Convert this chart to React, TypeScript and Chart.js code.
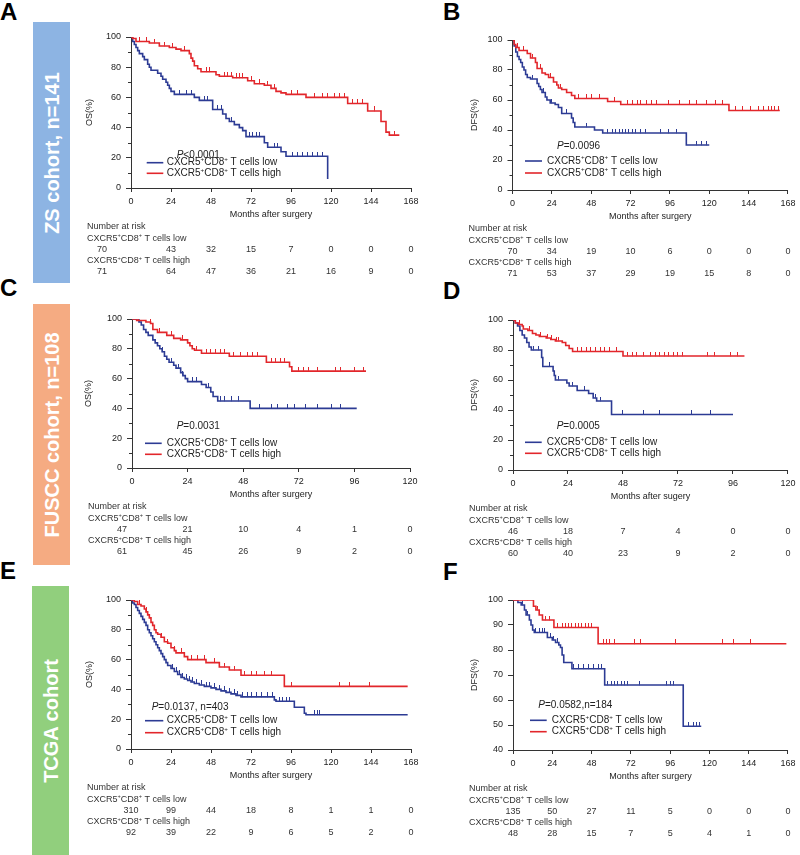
import React, { useEffect, useRef } from 'react';
import { Chart, registerables } from 'chart.js';

Chart.register(...registerables);

const FONT = '"Liberation Sans", Arial, Helvetica, sans-serif';
const BLUE = '#2c3b94';
const RED = '#e2262b';
const AXIS = '#333333';
const TEXT = '#222222';

type Step = [number, number];

// ---------- shared labels ----------
const LOW_LABEL = 'CXCR5⁺CD8⁺ T cells low';
const HIGH_LABEL = 'CXCR5⁺CD8⁺ T cells high';
const RISK_TITLE = 'Number at risk';
const X_TITLE = 'Months after surgery';
const X_TITLE_D = 'Months after sugery';
const TIMES_168 = [0, 24, 48, 72, 96, 120, 144, 168];
const TIMES_120 = [0, 24, 48, 72, 96, 120];

// ---------- Panel A: ZS cohort OS ----------
const A_LOW: Step[] = [[0,100],[1,97],[2,95],[3,93],[4,91],[5,89],[7,87],[8,85],[10,82],[11,80],[12,78],[16,76],[18,74],[19,72],[21,70],[22,68],[23,66],[24,64],[26,62],[38,60],[41,58],[49,52],[55,49],[57,46],[59,44],[62,42],[65,40],[67,38],[69,34],[80,30],[82,27],[90,24],[93,21],[118,6]];
const A_HIGH: Step[] = [[0,100],[1,99],[3,97],[11,96],[17,94],[23,93],[27,92],[30,91],[35,89],[36,86],[37,84],[38,81],[40,79],[42,77],[51,75],[53,74],[61,73],[70,71],[74,69],[80,68],[84,66],[87,64],[90,63],[93,62],[105,60],[130,56],[142,51],[150,44],[153,37],[155,35],[161,35]];
const A_LOW_CENSOR = [29,33,36,44,46,52,54,60,71,73,75,77,86,88,97,100,103,106,109,112,115];
const A_HIGH_CENSOR = [5,9,14,20,25,32,45,47,56,58,60,63,65,67,72,77,82,86,96,100,110,115,118,122,125,128,133,136,139,146,158];
const A_RISK_LOW = [70,43,32,15,7,0,0,0];
const A_RISK_HIGH = [71,64,47,36,21,16,9,0];
const A_P = 'P<0.0001';

// ---------- Panel B: ZS cohort DFS ----------
const B_LOW: Step[] = [[0,100],[1,96],[2,92],[3,89],[4,87],[5,85],[6,82],[7,80],[8,77],[9,75],[11,74],[15,71],[16,69],[17,67],[18,65],[20,62],[21,60],[23,58],[26,57],[28,55],[30,51],[36,48],[37,45],[38,42],[50,40],[55,38],[106,30],[120,30]];
const B_HIGH: Step[] = [[0,100],[1,97],[2,95],[4,93],[9,91],[11,88],[14,85],[15,81],[18,78],[20,77],[22,75],[25,72],[27,70],[28,68],[30,67],[33,65],[36,63],[38,61],[58,59],[66,57],[132,53],[163,53]];
const B_LOW_CENSOR = [12,19,24,33,45,58,61,63,65,67,69,71,73,75,78,81,90,95,100,112,115,118];
const B_HIGH_CENSOR = [3,7,12,17,23,29,40,45,48,53,62,70,73,76,78,82,85,88,95,102,108,112,118,124,128,136,140,145,150,153,156,158,160,162];
const B_RISK_LOW = [70,34,19,10,6,0,0,0];
const B_RISK_HIGH = [71,53,37,29,19,15,8,0];
const B_P = 'P=0.0096';

// ---------- Panel C: FUSCC cohort OS ----------
const C_LOW: Step[] = [[0,100],[3,98],[4,96],[5,93],[6,91],[7,89],[9,86],[10,84],[11,82],[12,80],[13,78],[14,75],[15,73],[16,71],[18,69],[19,67],[21,64],[22,62],[23,60],[24,58],[30,56],[32,54],[34,51],[35,48],[37,45],[51,40],[97,40]];
const C_HIGH: Step[] = [[0,100],[2,99],[6,98],[8,97],[9,93],[11,91],[15,89],[18,87],[21,86],[24,84],[25,82],[26,80],[27,79],[30,77],[42,75],[58,71],[68,68],[69,65],[101,65]];
const C_LOW_CENSOR = [13,17,20,22,26,28,33,38,40,43,46,55,60,63,67,70,75,80,86,90];
const C_HIGH_CENSOR = [3,8,12,17,22,28,32,34,36,38,40,44,47,50,52,54,60,62,64,66,72,74,76,80,88,90,96,100];
const C_RISK_LOW = [47,21,10,4,1,0];
const C_RISK_HIGH = [61,45,26,9,2,0];
const C_P = 'P=0.0031';

// ---------- Panel D: FUSCC cohort DFS ----------
const D_LOW: Step[] = [[0,100],[1,98],[2,96],[3,93],[4,90],[5,88],[6,85],[7,82],[8,80],[12.5,75],[13,69],[17.5,66],[18,63],[18.5,60],[23.5,58],[24.5,56],[28,53],[33,51],[35,48],[36.5,46],[43,37],[96,37]];
const D_HIGH: Step[] = [[0,100],[1,98],[2.5,97],[4,96],[4.5,94],[6.5,93],[8.5,91],[10,90],[11.5,89],[14.5,88],[16.5,87],[18.5,86],[21.5,85],[23,83],[24.5,81],[26,79],[48,76],[101,76]];
const D_LOW_CENSOR = [9,11,16,20,26,31,36,38,48,57,64,78,86];
const D_HIGH_CENSOR = [3,7,12,15,17,19,20,28,30,32,34,36,38,40,42,45,50,52,54,57,60,62,64,66,68,70,72,74,85,88,95,98];
const D_RISK_LOW = [46,18,7,4,0,0];
const D_RISK_HIGH = [60,40,23,9,2,0];
const D_P = 'P=0.0005';

// ---------- Panel E: TCGA cohort OS ----------
const E_LOW: Step[] = [[0,100],[1,98],[2,97],[3,95],[4,93],[5,91],[6,89],[7,87],[8,85],[9,83],[10,80],[11,78],[12,76],[13,74],[14,72],[15,70],[16,68],[17,66],[18,64],[19,62],[20,60],[21,58],[22,56],[24,54],[26,52],[28,50],[30,48],[32,47],[34,46],[36,45],[38,44],[41,43],[44,42],[48,41],[51,40],[54,39],[57,38],[60,37],[63,36],[66,35],[86,33],[87,32],[98,28],[104,24],[105,23],[166,23]];
const E_HIGH: Step[] = [[0,100],[2,99],[4,97],[6,96],[8,94],[9,92],[10,90],[11,88],[12,85],[13,83],[14,80],[15,78],[16,77],[18,75],[20,72],[22,71],[24,68],[26,66],[27,64.5],[32,62],[34,60],[45,58],[53,55],[59,53],[66,49.5],[92,42],[166,42]];
const E_LOW_CENSOR = [25,27,29,31,33,35,37,39,42,45,47,50,53,56,59,62,64,67,70,72,75,78,82,85,89,91,93,95,110,112,113];
const E_HIGH_CENSOR = [5,9,14,18,22,26,30,36,40,44,50,56,62,68,72,75,80,84,96,125,131,143];
const E_RISK_LOW = [310,99,44,18,8,1,1,0];
const E_RISK_HIGH = [92,39,22,9,6,5,2,0];
const E_P = 'P=0.0137, n=403';

// ---------- Panel F: TCGA cohort DFS ----------
const F_LOW: Step[] = [[0,100],[3,99],[5,98],[7,96],[8,94],[10,92],[11,90],[12,88],[13,87],[21,85],[24,84],[26,83],[28,82],[29,81],[30,78],[31,75],[36,72.5],[56,66],[104,49.5],[115,49.5]];
const F_HIGH: Step[] = [[0,100],[12.5,97.5],[14,96],[16,94],[18,92],[25,89],[52,82.5],[167,82.5]];
const F_LOW_CENSOR = [6,9,12,14,16,18,19,23,25,27,37,40,43,46,49,52,54,58,60,62,64,66,68,70,77,94,96,98,107,110,112,114];
const F_HIGH_CENSOR = [3,6,9,15,20,22,27,30,32,34,36,38,40,42,44,46,48,55,57,59,62,74,78,99,128,135,145];
const F_RISK_LOW = [135,50,27,11,5,0,0,0];
const F_RISK_HIGH = [48,28,15,7,5,4,1,0];
const F_P = 'P=0.0582,n=184';

// ---------- layout ----------
interface PanelCfg {
  key: string;
  rect: [number, number, number, number];
  area: [number, number, number, number];
  xMax: number; yMin: number; yMax: number; yStep: number; yMinor: boolean;
  yTitle: string; yTitleOffset: number; xTitle: string;
  low: Step[]; high: Step[]; lowCens: number[]; highCens: number[];
  riskTimes: number[]; riskLow: number[]; riskHigh: number[];
  pText: string; pPos: [number, number];
  legLine: [number, number]; legY: [number, number]; legTextX: number;
  firstShift: number;
}

const YW = 48;
const XH = 32.4;
const RISK_ROWS = [39, 50.5, 61.5, 73, 84];

const PANELS: PanelCfg[] = [
  { key: 'A', rect: [72, 20, 368, 260], area: [131, 411, 37, 188], xMax: 168, yMin: 0, yMax: 100, yStep: 20, yMinor: true,
    yTitle: 'OS(%)', yTitleOffset: -41, xTitle: X_TITLE, low: A_LOW, high: A_HIGH, lowCens: A_LOW_CENSOR, highCens: A_HIGH_CENSOR,
    riskTimes: TIMES_168, riskLow: A_RISK_LOW, riskHigh: A_RISK_HIGH, pText: A_P, pPos: [45.7, 118],
    legLine: [15.7, 32.3], legY: [125.7, 136.3], legTextX: 35.7, firstShift: -29 },
  { key: 'B', rect: [440, 20, 360, 260], area: [512.5, 793, 40, 190], xMax: 168, yMin: 0, yMax: 100, yStep: 20, yMinor: true,
    yTitle: 'DFS(%)', yTitleOffset: -38, xTitle: X_TITLE, low: B_LOW, high: B_HIGH, lowCens: B_LOW_CENSOR, highCens: B_HIGH_CENSOR,
    riskTimes: TIMES_168, riskLow: B_RISK_LOW, riskHigh: B_RISK_HIGH, pText: B_P, pPos: [44.5, 106],
    legLine: [12.5, 29.5], legY: [121, 133], legTextX: 34.5, firstShift: 0 },
  { key: 'C', rect: [72, 280, 368, 285], area: [132, 410, 319, 468], xMax: 120, yMin: 0, yMax: 100, yStep: 20, yMinor: true,
    yTitle: 'OS(%)', yTitleOffset: -43, xTitle: X_TITLE, low: C_LOW, high: C_HIGH, lowCens: C_LOW_CENSOR, highCens: C_HIGH_CENSOR,
    riskTimes: TIMES_120, riskLow: C_RISK_LOW, riskHigh: C_RISK_HIGH, pText: C_P, pPos: [44.7, 107.7],
    legLine: [13, 29.7], legY: [124.3, 135.3], legTextX: 34.7, firstShift: -10 },
  { key: 'D', rect: [440, 280, 360, 285], area: [513, 793, 320, 470], xMax: 120, yMin: 0, yMax: 100, yStep: 20, yMinor: true,
    yTitle: 'DFS(%)', yTitleOffset: -38, xTitle: X_TITLE_D, low: D_LOW, high: D_HIGH, lowCens: D_LOW_CENSOR, highCens: D_HIGH_CENSOR,
    riskTimes: TIMES_120, riskLow: D_RISK_LOW, riskHigh: D_RISK_HIGH, pText: D_P, pPos: [43.7, 106.7],
    legLine: [12, 28.7], legY: [122.3, 133.3], legTextX: 33.7, firstShift: 0 },
  { key: 'E', rect: [72, 565, 368, 290], area: [131, 411, 600, 749], xMax: 168, yMin: 0, yMax: 100, yStep: 20, yMinor: true,
    yTitle: 'OS(%)', yTitleOffset: -41, xTitle: X_TITLE, low: E_LOW, high: E_HIGH, lowCens: E_LOW_CENSOR, highCens: E_HIGH_CENSOR,
    riskTimes: TIMES_168, riskLow: E_RISK_LOW, riskHigh: E_RISK_HIGH, pText: E_P, pPos: [20.7, 107.7],
    legLine: [14, 32.3], legY: [120.7, 132.7], legTextX: 35.7, firstShift: 0 },
  { key: 'F', rect: [440, 565, 360, 290], area: [513, 793, 600, 750], xMax: 168, yMin: 40, yMax: 100, yStep: 10, yMinor: false,
    yTitle: 'DFS(%)', yTitleOffset: -38, xTitle: X_TITLE, low: F_LOW, high: F_HIGH, lowCens: F_LOW_CENSOR, highCens: F_HIGH_CENSOR,
    riskTimes: TIMES_168, riskLow: F_RISK_LOW, riskHigh: F_RISK_HIGH, pText: F_P, pPos: [25.3, 105],
    legLine: [17, 33.7], legY: [120.3, 131.7], legTextX: 38.7, firstShift: 0 },
];

const BANDS = [
  { key: 'ba', x: 33, y: 22, w: 37, h: 261, color: '#8db4e3', text: 'ZS cohort, n=141' },
  { key: 'bc', x: 33, y: 304, w: 37, h: 261, color: '#f5ab82', text: 'FUSCC cohort, n=108' },
  { key: 'be', x: 32, y: 586, w: 37, h: 269, color: '#91cf7d', text: 'TCGA cohort' },
];

const LETTERS = [
  { t: 'A', x: 0, y: 0 }, { t: 'B', x: 443, y: 0 },
  { t: 'C', x: 0, y: 276 }, { t: 'D', x: 443, y: 279 },
  { t: 'E', x: 0, y: 559 }, { t: 'F', x: 443, y: 560 },
];

function stepValue(steps: Step[], t: number): number {
  let v = steps[0][1];
  for (const [x, y] of steps) {
    if (x <= t) v = y; else break;
  }
  return v;
}

// upward censor tick used as a point style
function makeTick(color: string): HTMLCanvasElement {
  const c = document.createElement('canvas');
  c.width = 1;
  c.height = 9;
  const g = c.getContext('2d');
  if (g) {
    g.fillStyle = color;
    g.fillRect(0, 0, 1, 4.5);
  }
  return c;
}

function drawRich(ctx: CanvasRenderingContext2D, text: string, x: number, y: number, size: number,
  align: 'left' | 'center' = 'left', italicFirst = false) {
  const segs: { s: string; sup: boolean; it: boolean }[] = [];
  for (let i = 0; i < text.length; i++) {
    const ch = text[i];
    const sup = ch === '⁺';
    const it = italicFirst && i === 0;
    const s = sup ? '+' : ch;
    const last = segs[segs.length - 1];
    if (last && last.sup === sup && last.it === it) last.s += s;
    else segs.push({ s, sup, it });
  }
  const fontFor = (g: { sup: boolean; it: boolean }) =>
    `${g.it ? 'italic ' : ''}${g.sup ? (size * 0.62).toFixed(1) : size}px ${FONT}`;
  let total = 0;
  for (const g of segs) { ctx.font = fontFor(g); total += ctx.measureText(g.s).width; }
  let cx = align === 'center' ? x - total / 2 : x;
  ctx.textAlign = 'left';
  ctx.textBaseline = 'middle';
  for (const g of segs) {
    ctx.font = fontFor(g);
    ctx.fillText(g.s, cx, g.sup ? y - size * 0.33 : y);
    cx += ctx.measureText(g.s).width;
  }
}

function buildChart(canvas: HTMLCanvasElement, cfg: PanelCfg) {
  const [rx, ry, rw, rh] = cfg.rect;
  const [L, R, T, B] = cfg.area;
  const tickFont = { family: FONT, size: 9 };

  const overlay = {
    id: 'kmOverlay',
    afterDraw(chart: any) {
      const ctx: CanvasRenderingContext2D = chart.ctx;
      const ca = chart.chartArea;
      const xs = chart.scales.x;
      const ys = chart.scales.y;
      ctx.save();
      // minor y ticks
      if (cfg.yMinor) {
        ctx.strokeStyle = AXIS;
        ctx.lineWidth = 1;
        for (let v = cfg.yMin + cfg.yStep / 2; v < cfg.yMax; v += cfg.yStep) {
          const py = Math.round(ys.getPixelForValue(v)) + 0.5;
          ctx.beginPath();
          ctx.moveTo(ca.left - 3, py);
          ctx.lineTo(ca.left, py);
          ctx.stroke();
        }
      }
      // P value
      ctx.fillStyle = TEXT;
      drawRich(ctx, cfg.pText, ca.left + cfg.pPos[0], ca.top + cfg.pPos[1], 10, 'left', true);
      // legend
      const series = [
        { color: BLUE, label: LOW_LABEL, y: cfg.legY[0] },
        { color: RED, label: HIGH_LABEL, y: cfg.legY[1] },
      ];
      for (const s of series) {
        ctx.strokeStyle = s.color;
        ctx.lineWidth = 1.6;
        ctx.beginPath();
        ctx.moveTo(ca.left + cfg.legLine[0], ca.top + s.y);
        ctx.lineTo(ca.left + cfg.legLine[1], ca.top + s.y);
        ctx.stroke();
        ctx.fillStyle = TEXT;
        drawRich(ctx, s.label, ca.left + cfg.legTextX, ca.top + s.y, 10);
      }
      // number at risk table
      const base = ca.bottom;
      const lx = ca.left - 44;
      ctx.fillStyle = '#333';
      drawRich(ctx, RISK_TITLE, lx, base + RISK_ROWS[0], 9);
      drawRich(ctx, LOW_LABEL, lx, base + RISK_ROWS[1], 9);
      drawRich(ctx, HIGH_LABEL, lx, base + RISK_ROWS[3], 9);
      cfg.riskTimes.forEach((t, i) => {
        const px = xs.getPixelForValue(t) + (i === 0 ? cfg.firstShift : 0);
        drawRich(ctx, String(cfg.riskLow[i]), px, base + RISK_ROWS[2], 9, 'center');
        drawRich(ctx, String(cfg.riskHigh[i]), px, base + RISK_ROWS[4], 9, 'center');
      });
      ctx.restore();
    },
  };

  const curve = (steps: Step[], color: string) => ({
    data: steps.map(([x, y]) => ({ x, y })),
    borderColor: color,
    backgroundColor: color,
    borderWidth: 1.6,
    stepped: true,
    pointRadius: 0,
    fill: false,
  });
  const censor = (times: number[], steps: Step[], color: string) => ({
    data: times.map((t) => ({ x: t, y: stepValue(steps, t) })),
    showLine: false,
    pointStyle: makeTick(color),
    pointRadius: 4,
    borderColor: color,
    backgroundColor: color,
  });

  return new Chart(canvas, {
    type: 'line',
    data: {
      datasets: [
        curve(cfg.high, RED),
        censor(cfg.highCens, cfg.high, RED),
        curve(cfg.low, BLUE),
        censor(cfg.lowCens, cfg.low, BLUE),
      ] as any,
    },
    options: {
      responsive: false,
      maintainAspectRatio: false,
      animation: false,
      devicePixelRatio: 1,
      events: [],
      layout: {
        padding: {
          left: L - rx - YW,
          right: rx + rw - R,
          top: T - ry,
          bottom: ry + rh - B - XH,
        },
      },
      plugins: {
        legend: { display: false },
        tooltip: { enabled: false },
      },
      scales: {
        x: {
          type: 'linear',
          min: 0,
          max: cfg.xMax,
          afterFit: (s: any) => { s.height = XH; },
          ticks: { stepSize: 24, autoSkip: false, maxRotation: 0, font: tickFont, color: TEXT, padding: 4.5 },
          grid: { display: true, drawOnChartArea: false, drawTicks: true, tickLength: 4, color: AXIS, lineWidth: 1 },
          border: { display: true, color: AXIS, width: 1 },
          title: { display: true, text: cfg.xTitle, font: tickFont, color: TEXT, padding: 0 },
        },
        y: {
          type: 'linear',
          min: cfg.yMin,
          max: cfg.yMax,
          afterFit: (s: any) => { s.width = YW; },
          ticks: { stepSize: cfg.yStep, autoSkip: false, font: tickFont, color: TEXT, padding: 5 },
          grid: { display: true, drawOnChartArea: false, drawTicks: true, tickLength: 5, color: AXIS, lineWidth: 1 },
          border: { display: true, color: AXIS, width: 1 },
          title: { display: true, text: cfg.yTitle, font: tickFont, color: TEXT,
            padding: { top: cfg.yTitleOffset + YW - 5.4, bottom: 0 } },
        },
      },
    } as any,
    plugins: [overlay as any],
  });
}

function KMPanel({ cfg }: { cfg: PanelCfg }) {
  const ref = useRef<HTMLCanvasElement>(null);
  useEffect(() => {
    const canvas = ref.current;
    if (!canvas) return;
    const chart = buildChart(canvas, cfg);
    return () => chart.destroy();
  }, [cfg]);
  const [x, y, w, h] = cfg.rect;
  return (
    <canvas ref={ref} width={w} height={h}
      style={{ position: 'absolute', left: x, top: y, width: w, height: h }} />
  );
}

export default function App() {
  return (
    <div style={{ position: 'absolute', left: 0, top: 0, width: 800, height: 855, background: '#fff',
      overflow: 'hidden', fontFamily: FONT }}>
      {BANDS.map((b) => (
        <div key={b.key} style={{ position: 'absolute', left: b.x, top: b.y, width: b.w, height: b.h,
          background: b.color, display: 'flex', alignItems: 'center', justifyContent: 'center' }}>
          <span style={{ display: 'inline-block', transform: 'rotate(-90deg)', whiteSpace: 'nowrap',
            color: '#fff', fontWeight: 700, fontSize: 20, lineHeight: '20px' }}>{b.text}</span>
        </div>
      ))}
      {LETTERS.map((l) => (
        <div key={l.t} style={{ position: 'absolute', left: l.x, top: l.y, fontSize: 24, fontWeight: 700,
          lineHeight: '24px', color: '#000' }}>{l.t}</div>
      ))}
      {PANELS.map((p) => <KMPanel key={p.key} cfg={p} />)}
    </div>
  );
}
